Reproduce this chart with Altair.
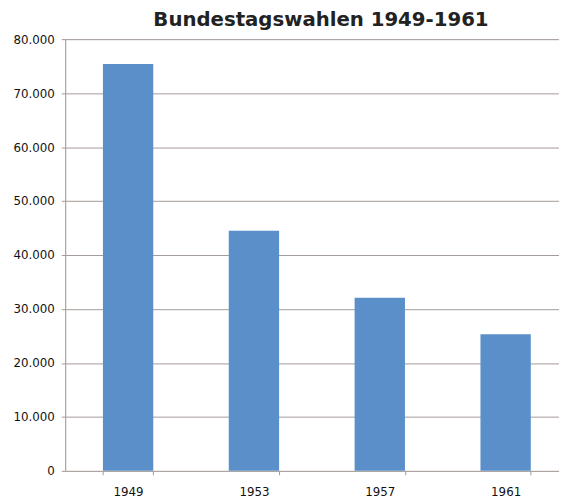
import altair as alt
import pandas as pd

years = ["1949", "1953", "1957", "1961"]
values = [75400, 44500, 32100, 25300]
y_ticks = [0, 10000, 20000, 30000, 40000, 50000, 60000, 70000, 80000]

df = pd.DataFrame({"Jahr": years, "Wert": values})

line_col = "#a39a96"
txt_col = "#111111"

chart = alt.Chart(df).mark_bar(color="#5b8fca").encode(
    x=alt.X(
        "Jahr:N",
        sort=years,
        scale=alt.Scale(range=[0, 510.7], paddingInner=0.6, paddingOuter=0.3),
        axis=alt.Axis(
            title=None, labelAngle=0, grid=False, domain=False,
            tickBand="extent", tickSize=4, tickColor=line_col,
            labelFont="DejaVu Sans", labelFontSize=12, labelColor=txt_col,
            labelPadding=12,
        ),
    ),
    y=alt.Y(
        "Wert:Q",
        scale=alt.Scale(domain=[0, 80000], nice=False),
        axis=alt.Axis(
            title=None, values=y_ticks, grid=True, gridColor=line_col,
            gridOpacity=1, domain=True, domainColor=line_col, tickSize=4,
            tickColor=line_col, labelFont="DejaVu Sans", labelFontSize=12,
            labelColor=txt_col, labelPadding=7,
            labelExpr="replace(format(datum.value, ',d'), ',', '.')",
        ),
    ),
).properties(
    width=501,
    height=438,
    title=alt.TitleParams(
        text="Bundestagswahlen 1949-1961",
        font="DejaVu Sans", fontSize=20, fontWeight="bold", color="#222222",
        anchor="middle", offset=3, dx=9,
    ),
    autosize=alt.AutoSizeParams(type="none"),
    padding={"left": 58, "top": 28, "right": 0, "bottom": 29},
).configure_view(stroke=None).configure(background="white")

chart.save("out.html", embed_options={"renderer": "svg", "actions": False})
